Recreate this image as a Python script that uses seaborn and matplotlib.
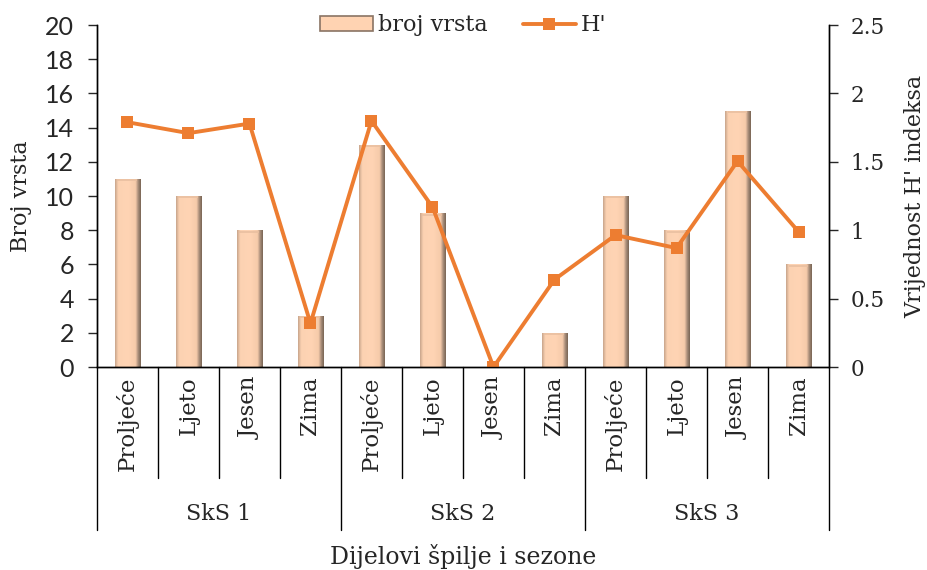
import numpy as np
import pandas as pd
import matplotlib
matplotlib.use("Agg")
import matplotlib.pyplot as plt
from matplotlib.patches import Patch
from matplotlib.lines import Line2D
from matplotlib.colors import LinearSegmentedColormap
import seaborn as sns

# data
groups = ["SkS 1", "SkS 2", "SkS 3"]
seasons = ["Proljeće", "Ljeto", "Jesen", "Zima"]
broj_vrsta = [11, 10, 8, 3, 13, 9, 0, 2, 10, 8, 15, 6]
h_index = [1.79, 1.71, 1.78, 0.32, 1.80, 1.17, 0.0, 0.64, 0.965, 0.87, 1.505, 0.99]
h_ticks = [0, 0.5, 1, 1.5, 2, 2.5]
h_tick_labels = ["0", "0.5", "1", "1.5", "2", "2.5"]

keys = [f"{g} {s}" for g in groups for s in seasons]
df = pd.DataFrame({"key": keys, "broj": broj_vrsta, "H": h_index,
                   "pos": np.arange(len(keys))})

sns.set_style("white")
plt.rcParams["font.family"] = ["DejaVu Serif"]

bar_col = "#FFD3B2"
line_col = "#ED7D31"
# cylinder-ish shading across each bar
shade = LinearSegmentedColormap.from_list(
    "bar", [(0, "#c9a68c"), (0.12, "#fcd2b2"), (0.5, "#ffd4b4"),
            (0.8, "#f6cbaa"), (0.9, "#a88d79"), (1, "#7a6656")])

fig = plt.figure(figsize=(9.27, 5.70), dpi=100)
ax = fig.add_axes([0.1046, 0.356, 0.7897, 0.600])

sns.barplot(data=df, x="key", y="broj", order=keys, color=bar_col, width=0.41,
            edgecolor="none", linewidth=0, saturation=1, ax=ax)
grad = np.linspace(0, 1, 64).reshape(1, -1)
for p in ax.patches:
    x0, w, h = p.get_x(), p.get_width(), p.get_height()
    if h <= 0:
        continue
    im = ax.imshow(grad, cmap=shade, aspect="auto", extent=(x0, x0 + w, 0, h),
                   origin="lower", zorder=p.get_zorder() + 0.1, interpolation="bilinear")
    im.set_clip_path(p)
    # lighter top cap
    ax.plot([x0 + w * 0.1, x0 + w * 0.88], [h - 0.08, h - 0.08], color="#e9bfa0",
            lw=1.2, zorder=p.get_zorder() + 0.2, solid_capstyle="butt")

ax.set_ylim(0, 20)
ax.set_yticks(range(0, 21, 2))
ax.set_xlim(-0.5, len(keys) - 0.5)
ax.set_ylabel("Broj vrsta", fontsize=16, labelpad=9)
ax.set_xlabel("")
ax.set_xticks(range(len(keys)))
ax.set_xticklabels(seasons * 3, rotation=90, fontsize=16.5)
ax.tick_params(axis="x", length=0, pad=7)
ax.tick_params(axis="y", labelsize=18, length=6.5, width=1, direction="out", left=True, pad=10)
for t in ax.get_yticklabels():
    t.set_family("Lato")

ax2 = ax.twinx()
sns.lineplot(data=df, x="pos", y="H", sort=False, color=line_col, lw=2.8,
             marker="s", markersize=8, markeredgewidth=0, ax=ax2)
ax2.set_ylim(0, 2.5)
ax2.set_yticks(h_ticks)
ax2.set_yticklabels(h_tick_labels)
ax2.set_ylabel("Vrijednost H' indeksa", fontsize=16, labelpad=14)
ax2.tick_params(axis="y", labelsize=15.5, length=6.5, width=1, direction="out", right=True, pad=9)
ax2.set_xlim(-0.5, len(keys) - 0.5)

for a in (ax, ax2):
    a.spines["top"].set_visible(False)
    for s in ("left", "right", "bottom"):
        a.spines[s].set_color("black")
        a.spines[s].set_linewidth(1)

# category separators below the axis
tr = ax.get_xaxis_transform()
for i in range(len(keys) + 1):
    x = i - 0.5
    low = -0.477 if i % 4 == 0 else -0.325
    ax.plot([x, x], [0, low], color="black", lw=1, transform=tr, clip_on=False)

for j, g in enumerate(groups):
    ax.text(j * 4 + 1.5, -0.43, g, transform=tr, ha="center", va="center", fontsize=16)

ax.text(0.5, -0.555, "Dijelovi špilje i sezone", transform=ax.transAxes,
        ha="center", va="center", fontsize=17)

handles = [Patch(facecolor=bar_col, edgecolor="#8a7464", linewidth=1.2),
           Line2D([], [], color=line_col, lw=2.8, marker="s", markersize=8, markeredgewidth=0)]
leg = ax2.legend(handles, ["broj vrsta", "H'"], loc="upper center", ncol=2,
                 bbox_to_anchor=(0.5, 1.09), frameon=False, fontsize=16,
                 handlelength=2.4, handleheight=0.6, columnspacing=1.6, handletextpad=0.2)

fig.savefig("out.png", dpi=100)
